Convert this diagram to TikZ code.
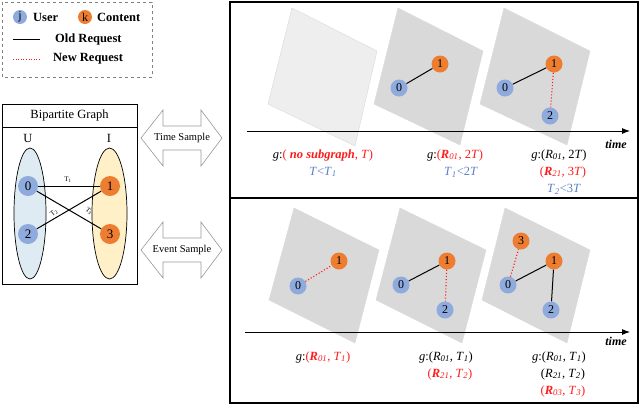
\documentclass[tikz,border=0pt]{standalone}
\usepackage{fontspec}
\setmainfont{Liberation Serif}
\usetikzlibrary{arrows.meta}
\definecolor{ublue}{HTML}{8FAADC}
\definecolor{corange}{HTML}{ED7D31}
\definecolor{tblue}{HTML}{5B7FC8}
\definecolor{ured}{HTML}{FF1A1A}
\definecolor{pgray}{HTML}{D9D9D9}
\definecolor{ufill}{HTML}{DEEBF3}
\definecolor{ifill}{HTML}{FFF0C8}
\newcommand{\Rx}[1]{\textbf{\textit{R}}\textsubscript{\textit{#1}}}
\newcommand{\Rp}[1]{\textit{R}\textsubscript{\textit{#1}}}
\newcommand{\Tx}[1]{\textit{T}\textsubscript{\textit{#1}}}
\begin{document}
\begin{tikzpicture}[x=1pt,y=-1pt,
  un/.style={circle,fill=ublue,minimum size=17pt,inner sep=0pt,font=\fontsize{12}{12}\selectfont},
  cn/.style={circle,fill=corange,minimum size=17pt,inner sep=0pt,font=\fontsize{12}{12}\selectfont},
  bun/.style={circle,fill=ublue,minimum size=20pt,inner sep=0pt,font=\fontsize{13}{13}\selectfont},
  bcn/.style={circle,fill=corange,minimum size=20pt,inner sep=0pt,font=\fontsize{13}{13}\selectfont},
  old/.style={black,line width=1pt},
  new/.style={ured,dotted,line width=1.1pt},
  plane/.style={fill=pgray,draw=pgray},
  lbl/.style={font=\fontsize{12.5}{14}\selectfont,inner sep=0pt},
  lg/.style={anchor=west,font=\bfseries\fontsize{12.5}{14}\selectfont,inner sep=0pt},
  dbl/.style={draw=gray!80,fill=white,line width=0.6pt}]
\useasboundingbox (0,0) rectangle (640,405);
% legend
\draw[gray,dashed,line width=0.8pt] (2,2) rectangle (152,77);
\node[un,minimum size=14pt] (lj) at (20,17) {j};
\node[lg] (lu) at (33,17) {User};
\node[cn,minimum size=14pt] (lk) at (85,17) {k};
\node[lg] (lc) at (97,17) {Content};
\coordinate (o1) at (13,39); \coordinate (o2) at (40,39);
\draw[old] (o1) -- (o2);
\node[lg] (lo) at (55,39) {Old Request};
\coordinate (n1) at (13,59); \coordinate (n2) at (40,59);
\draw[new,line width=0.6pt] (n1) -- (n2);
\node[lg] (ln) at (53,59) {New Request};
% bipartite
\draw[line width=0.8pt] (2,104) rectangle (137,284);
\draw[line width=0.8pt] (2,127) -- (137,127);
\node[font=\fontsize{12.5}{14}\selectfont] (bt) at (69.5,115.5) {Bipartite Graph};
\node[font=\fontsize{12.5}{14}\selectfont] (U) at (28,138) {U};
\node[font=\fontsize{12.5}{14}\selectfont] (I) at (109,138) {I};
\draw[fill=ufill,line width=0.7pt] (30,213.5) ellipse (16 and 65.5);
\draw[fill=ifill,line width=0.7pt] (109.5,213.5) ellipse (17.5 and 65.5);
\node[bun] (b0) at (28,186) {0};
\node[bun] (b2) at (28,234) {2};
\node[bcn] (b1) at (110,186) {1};
\node[bcn] (b3) at (110,234) {3};
\draw[old] (b0) -- (b1);
\draw[old] (b0) -- (b3);
\draw[old] (b2) -- (b1);
\node[font=\fontsize{7}{7}\selectfont,inner sep=0pt] (t1) at (68,180) {T\textsubscript{1}};
\node[font=\fontsize{7}{7}\selectfont,inner sep=0pt,rotate=40] (t2) at (54,213) {T\textsubscript{2}};
\node[font=\fontsize{7}{7}\selectfont,inner sep=0pt,rotate=-40] (t3) at (89,211) {T\textsubscript{3}};
% double arrows
\foreach \cy/\txt/\nm in {138/Time Sample/ts, 250/Event Sample/es}{
  \draw[dbl] (141,\cy) -- (163,\cy-28) -- (163,\cy-12) -- (201,\cy-12) -- (201,\cy-28) -- (222,\cy) -- (201,\cy+28) -- (201,\cy+12) -- (163,\cy+12) -- (163,\cy+28) -- cycle;
  \node[font=\fontsize{10.5}{12}\selectfont] (\nm) at (182,\cy) {\txt};
}
% panels
\draw[line width=1.3pt] (230,2) rectangle (638,198);
\draw[line width=1.3pt] (230,198) rectangle (638,403);
% top planes
\draw[fill=pgray!45,draw=pgray] (292,8) -- (377,51) -- (355,146) -- (268,104) -- cycle;
\draw[plane] (398,8) -- (483,51) -- (460,145) -- (374,104) -- cycle;
\draw[plane] (504,8) -- (590,51) -- (567,145) -- (480,104) -- cycle;
\coordinate (ta) at (247,131); \coordinate (tb) at (630,131);
\draw[-{Latex[length=8pt,width=6pt]},line width=0.9pt] (ta) -- (tb);
\node[font=\bfseries\itshape\fontsize{12}{14}\selectfont] (tt1) at (616,144) {time};
\node[un] (a0) at (399,88) {0};
\node[cn] (a1) at (440,64) {1};
\draw[old] (a0) -- (a1);
\node[un] (c0) at (505,88) {0};
\node[cn] (c1) at (554,64) {1};
\node[un] (c2) at (550,116) {2};
\draw[old] (c0) -- (c1);
\draw[new] (c1) -- (c2);
\node[lbl] (x1) at (323,155) {\textit{g}:\textcolor{ured}{( \textbf{\textit{no subgraph}}, \textit{T})}};
\node[lbl,text=tblue] (x2) at (323,172) {\textit{T}<\Tx{1}};
\node[lbl] (x3) at (455,155) {\textit{g}:\textcolor{ured}{(\Rx{01}, 2\textit{T})}};
\node[lbl,text=tblue] (x4) at (461,172) {\Tx{1}<2\textit{T}};
\node[lbl] (x5) at (559,155) {\textit{g}:(\Rp{01}, 2\textit{T})};
\node[lbl,text=ured] (x6) at (563,172) {(\Rx{21}, 3\textit{T})};
\node[lbl,text=tblue] (x7) at (564,189) {\Tx{2}<3\textit{T}};
% bottom planes
\draw[plane] (294,208) -- (379,250) -- (355,343) -- (269,300) -- cycle;
\draw[plane] (400,208) -- (486,250) -- (462,343) -- (376,300) -- cycle;
\draw[plane] (505,208) -- (590,250) -- (567,343) -- (482,300) -- cycle;
\coordinate (ba) at (245,332); \coordinate (bb) at (630,332);
\draw[-{Latex[length=8pt,width=6pt]},line width=0.9pt] (ba) -- (bb);
\node[font=\bfseries\itshape\fontsize{12}{14}\selectfont] (tt2) at (616,341) {time};
\node[un] (d0) at (298,286) {0};
\node[cn] (d1) at (339,261) {1};
\draw[new] (d0) -- (d1);
\node[un] (e0) at (401,285) {0};
\node[cn] (e1) at (447,261) {1};
\node[un] (e2) at (445,310) {2};
\draw[old] (e0) -- (e1);
\draw[new] (e1) -- (e2);
\node[un] (f0) at (508,285) {0};
\node[cn] (f1) at (554,261) {1};
\node[un] (f2) at (551,310) {2};
\node[cn] (f3) at (521,241) {3};
\draw[old] (f0) -- (f1);
\draw[old] (f1) -- (f2);
\draw[new] (f0) -- (f3);
\node[lbl] (y1) at (323,357) {\textit{g}:\textcolor{ured}{(\Rx{01}, \Tx{1})}};
\node[lbl] (y2) at (446,357) {\textit{g}:(\Rp{01}, \Tx{1})};
\node[lbl,text=ured] (y3) at (450,374) {(\Rx{21}, \Tx{2})};
\node[lbl] (y4) at (559,357) {\textit{g}:(\Rp{01}, \Tx{1})};
\node[lbl] (y5) at (563,374) {(\Rp{21}, \Tx{2})};
\node[lbl,text=ured] (y6) at (563,391) {(\Rx{03}, \Tx{3})};
\end{tikzpicture}
\end{document}
